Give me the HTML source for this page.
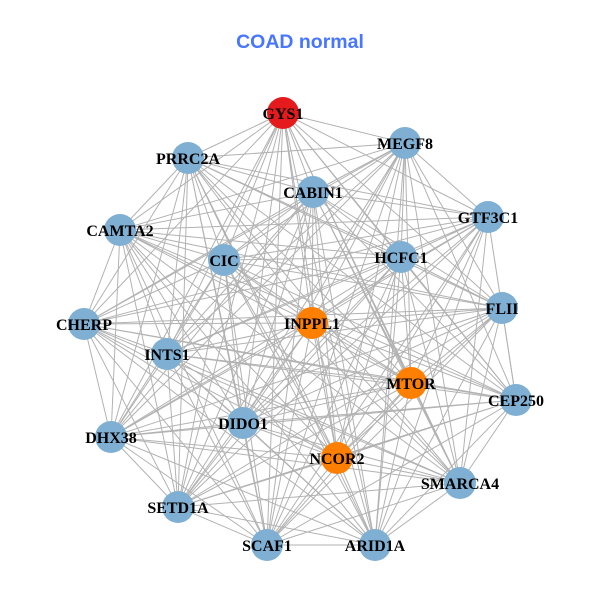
<!DOCTYPE html>
<html>
<head>
<meta charset="utf-8">
<style>
html,body{margin:0;padding:0;background:#fff;}
svg{display:block;}
.t{font-family:"Liberation Sans",Arial,sans-serif;font-weight:bold;font-size:19.5px;fill:#4876FF;}
.l{font-family:"Liberation Serif","Times New Roman",serif;font-weight:bold;font-size:16px;fill:#000;}
</style>
</head>
<body>
<svg width="600" height="600" viewBox="0 0 600 600" xmlns="http://www.w3.org/2000/svg">
<rect width="600" height="600" fill="#fff"/>
<text class="t" x="300" y="48" text-anchor="middle">COAD normal</text>
<g stroke="#b2b2b2" stroke-width="1" fill="none">
<path d="M283 113L405 143M283 113L188 158M283 113L313 192M283 113L488 217M283 113L120 230M283 113L224 260M283 113L401 257M283 113L502 308M283 113L84 324M283 113L312 323M283 113L167 354M283 113L411 383M283 113L516 400M283 113L243 423M283 113L111 437M283 113L337 458M283 113L460 483M283 113L178 507M283 113L267 545M283 113L375 545"/>
<path d="M405 143L188 158M405 143L313 192M405 143L488 217M405 143L120 230M405 143L224 260M405 143L401 257M405 143L502 308M405 143L84 324M405 143L312 323M405 143L167 354M405 143L411 383M405 143L516 400M405 143L243 423M405 143L111 437M405 143L337 458M405 143L460 483M405 143L178 507M405 143L267 545M405 143L375 545"/>
<path d="M188 158L313 192M188 158L488 217M188 158L120 230M188 158L224 260M188 158L401 257M188 158L502 308M188 158L84 324M188 158L312 323M188 158L167 354M188 158L411 383M188 158L516 400M188 158L243 423M188 158L111 437M188 158L337 458M188 158L460 483M188 158L178 507M188 158L267 545M188 158L375 545"/>
<path d="M313 192L488 217M313 192L120 230M313 192L224 260M313 192L401 257M313 192L502 308M313 192L84 324M313 192L312 323M313 192L167 354M313 192L411 383M313 192L516 400M313 192L243 423M313 192L111 437M313 192L337 458M313 192L460 483M313 192L178 507M313 192L267 545M313 192L375 545"/>
<path d="M488 217L120 230M488 217L224 260M488 217L401 257M488 217L502 308M488 217L84 324M488 217L312 323M488 217L167 354M488 217L411 383M488 217L516 400M488 217L243 423M488 217L111 437M488 217L337 458M488 217L460 483M488 217L178 507M488 217L267 545M488 217L375 545"/>
<path d="M120 230L224 260M120 230L401 257M120 230L502 308M120 230L84 324M120 230L312 323M120 230L167 354M120 230L411 383M120 230L516 400M120 230L243 423M120 230L111 437M120 230L337 458M120 230L460 483M120 230L178 507M120 230L267 545M120 230L375 545"/>
<path d="M224 260L401 257M224 260L502 308M224 260L84 324M224 260L312 323M224 260L167 354M224 260L411 383M224 260L516 400M224 260L243 423M224 260L111 437M224 260L337 458M224 260L460 483M224 260L178 507M224 260L267 545M224 260L375 545"/>
<path d="M401 257L502 308M401 257L84 324M401 257L312 323M401 257L167 354M401 257L411 383M401 257L516 400M401 257L243 423M401 257L111 437M401 257L337 458M401 257L460 483M401 257L178 507M401 257L267 545M401 257L375 545"/>
<path d="M502 308L84 324M502 308L312 323M502 308L167 354M502 308L411 383M502 308L516 400M502 308L243 423M502 308L111 437M502 308L337 458M502 308L460 483M502 308L178 507M502 308L267 545M502 308L375 545"/>
<path d="M84 324L312 323M84 324L167 354M84 324L411 383M84 324L516 400M84 324L243 423M84 324L111 437M84 324L337 458M84 324L460 483M84 324L178 507M84 324L267 545M84 324L375 545"/>
<path d="M312 323L167 354M312 323L411 383M312 323L516 400M312 323L243 423M312 323L111 437M312 323L337 458M312 323L460 483M312 323L178 507M312 323L267 545M312 323L375 545"/>
<path d="M167 354L411 383M167 354L516 400M167 354L243 423M167 354L111 437M167 354L337 458M167 354L460 483M167 354L178 507M167 354L267 545M167 354L375 545"/>
<path d="M411 383L516 400M411 383L243 423M411 383L111 437M411 383L337 458M411 383L460 483M411 383L178 507M411 383L267 545M411 383L375 545"/>
<path d="M516 400L243 423M516 400L111 437M516 400L337 458M516 400L460 483M516 400L178 507M516 400L267 545M516 400L375 545"/>
<path d="M243 423L111 437M243 423L337 458M243 423L460 483M243 423L178 507M243 423L267 545M243 423L375 545"/>
<path d="M111 437L337 458M111 437L460 483M111 437L178 507M111 437L267 545M111 437L375 545"/>
<path d="M337 458L460 483M337 458L178 507M337 458L267 545M337 458L375 545"/>
<path d="M460 483L178 507M460 483L267 545M460 483L375 545"/>
<path d="M178 507L267 545M178 507L375 545"/>
<path d="M267 545L375 545"/>
</g>
<g fill="#7fb0d4">
<circle cx="405" cy="143" r="16"/>
<circle cx="188" cy="158" r="16"/>
<circle cx="313" cy="192" r="16"/>
<circle cx="488" cy="217" r="16"/>
<circle cx="120" cy="230" r="16"/>
<circle cx="224" cy="260" r="16"/>
<circle cx="401" cy="257" r="16"/>
<circle cx="502" cy="308" r="16"/>
<circle cx="84" cy="324" r="16"/>
<circle cx="167" cy="354" r="16"/>
<circle cx="516" cy="400" r="16"/>
<circle cx="243" cy="423" r="16"/>
<circle cx="111" cy="437" r="16"/>
<circle cx="460" cy="483" r="16"/>
<circle cx="178" cy="507" r="16"/>
<circle cx="267" cy="545" r="16"/>
<circle cx="375" cy="545" r="16"/>
</g>
<circle cx="283" cy="113" r="16" fill="#e41a1c"/>
<g fill="#ff7f00">
<circle cx="312" cy="323" r="16"/>
<circle cx="411" cy="383" r="16"/>
<circle cx="337" cy="458" r="16"/>
</g>
<g class="l" text-anchor="middle">
<text x="283" y="119">GYS1</text>
<text x="405" y="149">MEGF8</text>
<text x="188" y="164">PRRC2A</text>
<text x="313" y="198">CABIN1</text>
<text x="488" y="223">GTF3C1</text>
<text x="120" y="236">CAMTA2</text>
<text x="224" y="266">CIC</text>
<text x="401" y="263">HCFC1</text>
<text x="502" y="314">FLII</text>
<text x="84" y="330">CHERP</text>
<text x="312" y="329">INPPL1</text>
<text x="167" y="360">INTS1</text>
<text x="411" y="389">MTOR</text>
<text x="516" y="406">CEP250</text>
<text x="243" y="429">DIDO1</text>
<text x="111" y="443">DHX38</text>
<text x="337" y="464">NCOR2</text>
<text x="460" y="489">SMARCA4</text>
<text x="178" y="513">SETD1A</text>
<text x="267" y="551">SCAF1</text>
<text x="375" y="551">ARID1A</text>
</g>
</svg>
</body>
</html>
